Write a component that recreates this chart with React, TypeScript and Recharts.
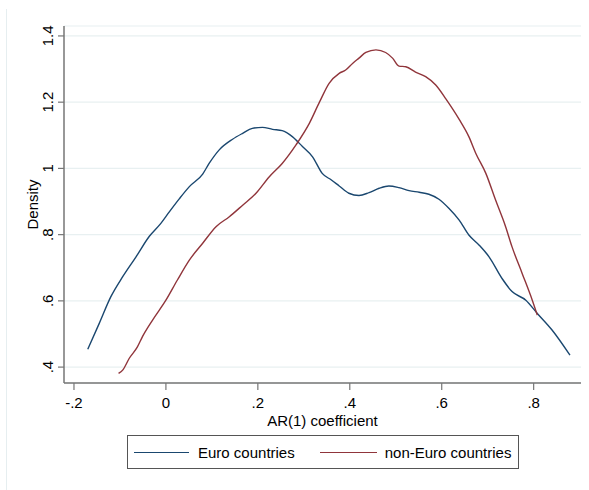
import { CartesianGrid, Label, Legend, Line, LineChart, XAxis, YAxis } from "recharts";

// kernel density estimates
const euroX = [
  -0.17, -0.145, -0.12, -0.094, -0.065, -0.036, -0.011, 0.007, 0.029, 0.051, 0.08, 0.094,
  0.116, 0.145, 0.167, 0.188, 0.21, 0.232, 0.253, 0.275, 0.297, 0.319, 0.34, 0.36, 0.377,
  0.398, 0.42, 0.442, 0.464, 0.485, 0.507, 0.529, 0.551, 0.572, 0.594, 0.616, 0.638, 0.659,
  0.681, 0.703, 0.732, 0.753, 0.783, 0.808, 0.84, 0.879,
];
const euroY = [
  0.454, 0.532, 0.612, 0.673, 0.733, 0.795, 0.834, 0.868, 0.908, 0.945, 0.983, 1.015,
  1.056, 1.088, 1.106, 1.121, 1.124, 1.118, 1.114, 1.096, 1.066, 1.035, 0.985, 0.965, 0.947,
  0.925, 0.918, 0.927, 0.94, 0.947, 0.942, 0.933, 0.928, 0.922, 0.907, 0.879, 0.844, 0.799,
  0.769, 0.733, 0.666, 0.628, 0.602, 0.562, 0.512, 0.436,
];

const nonEuroX = [
  -0.103, -0.094, -0.08, -0.062, -0.051, -0.029, 0, 0.025, 0.051, 0.08, 0.109, 0.138, 0.167,
  0.196, 0.225, 0.253, 0.283, 0.312, 0.334, 0.355, 0.377, 0.391, 0.406, 0.42, 0.435, 0.457,
  0.478, 0.493, 0.507, 0.522, 0.543, 0.565, 0.587, 0.609, 0.638, 0.659, 0.674, 0.696, 0.717,
  0.739, 0.753, 0.775, 0.797, 0.808,
];
const nonEuroY = [
  0.381, 0.391, 0.426, 0.461, 0.492, 0.542, 0.602, 0.663, 0.723, 0.774, 0.824, 0.854, 0.889,
  0.925, 0.975, 1.015, 1.071, 1.136, 1.2, 1.257, 1.287, 1.297, 1.317, 1.333, 1.35, 1.358,
  1.35, 1.333, 1.309, 1.307, 1.291, 1.277, 1.252, 1.21, 1.148, 1.096, 1.046, 0.985, 0.905,
  0.824, 0.763, 0.683, 0.602, 0.557,
];

const xTicks = [-0.2, 0, 0.2, 0.4, 0.6, 0.8];
const yTicks = [0.4, 0.6, 0.8, 1, 1.2, 1.4];

const euro = euroX.map((x, i) => ({ x, y: euroY[i] }));
const nonEuro = nonEuroX.map((x, i) => ({ x, y: nonEuroY[i] }));

const BLUE = "#1a476f";
const RED = "#90353b";
const AXIS = "#767676";
const FONT = "'Liberation Sans', Arial, sans-serif";
const FS = 15;

const fmt = (v: number) => String(Math.round(v * 10) / 10).replace(/^(-?)0\./, "$1.");

const YTick = ({ y, payload }: any) => (
  <text
    transform={`translate(53, ${y}) rotate(-90)`}
    textAnchor="middle"
    fontSize={FS}
    fill="#000"
    fontFamily={FONT}
  >
    {fmt(payload.value)}
  </text>
);

const LegendBox = () => (
  <div
    style={{
      marginLeft: 127,
      width: 392,
      height: 34,
      boxSizing: "border-box",
      border: "1px solid #555",
      display: "flex",
      alignItems: "center",
      fontFamily: FONT,
      fontSize: FS,
      color: "#000",
    }}
  >
    <span style={{ marginLeft: 6, width: 55, borderTop: `1.5px solid ${BLUE}` }} />
    <span style={{ marginLeft: 9 }}>Euro countries</span>
    <span style={{ marginLeft: 25, width: 57, borderTop: `1.5px solid ${RED}` }} />
    <span style={{ marginLeft: 8 }}>non-Euro countries</span>
  </div>
);

export default function App() {
  return (
    <div style={{ position: "absolute", left: 0, top: 0, width: 589, height: 490, background: "#fff" }}>
      <div
        style={{
          position: "absolute",
          left: 6,
          top: 9,
          height: 481,
          borderLeft: "1px solid #e6eef0",
        }}
      />
      <LineChart
        width={589}
        height={490}
        margin={{ top: 26, right: 8, left: 0, bottom: 21 }}
        style={{ fontFamily: FONT }}
      >
        <CartesianGrid vertical={false} stroke="#e8f0f1" strokeWidth={1.2} />
        <XAxis
          type="number"
          dataKey="x"
          domain={[-0.2217, 0.903]}
          allowDataOverflow
          ticks={xTicks}
          tickFormatter={fmt}
          height={52}
          tickSize={7}
          tickMargin={7}
          tick={{ fontSize: FS, fill: "#000" }}
          axisLine={{ stroke: AXIS, strokeWidth: 1.5 }}
          tickLine={{ stroke: AXIS, strokeWidth: 1.2 }}
        >
          <Label
            value="AR(1) coefficient"
            position="insideBottom"
            offset={9}
            style={{ fontSize: FS, fill: "#000" }}
          />
        </XAxis>
        <YAxis
          type="number"
          dataKey="y"
          domain={[0.352, 1.43]}
          allowDataOverflow
          ticks={yTicks}
          width={64}
          tickSize={6}
          tick={<YTick />}
          axisLine={{ stroke: AXIS, strokeWidth: 1.5 }}
          tickLine={{ stroke: AXIS, strokeWidth: 1.2 }}
        >
          <Label
            content={({ viewBox }: any) => (
              <text
                transform={`translate(${(viewBox?.x ?? 0) + 38}, ${(viewBox?.y ?? 0) + (viewBox?.height ?? 0) / 2}) rotate(-90)`}
                textAnchor="middle"
                fontSize={FS}
                fill="#000"
                fontFamily={FONT}
              >
                Density
              </text>
            )}
          />
        </YAxis>
        <Legend verticalAlign="bottom" align="left" height={34} content={<LegendBox />} wrapperStyle={{ left: 0, width: 589 }} />
        <Line
          data={euro}
          dataKey="y"
          name="Euro countries"
          type="monotone"
          stroke={BLUE}
          strokeWidth={1.4}
          dot={false}
          isAnimationActive={false}
        />
        <Line
          data={nonEuro}
          dataKey="y"
          name="non-Euro countries"
          type="monotone"
          stroke={RED}
          strokeWidth={1.4}
          dot={false}
          isAnimationActive={false}
        />
      </LineChart>
    </div>
  );
}
